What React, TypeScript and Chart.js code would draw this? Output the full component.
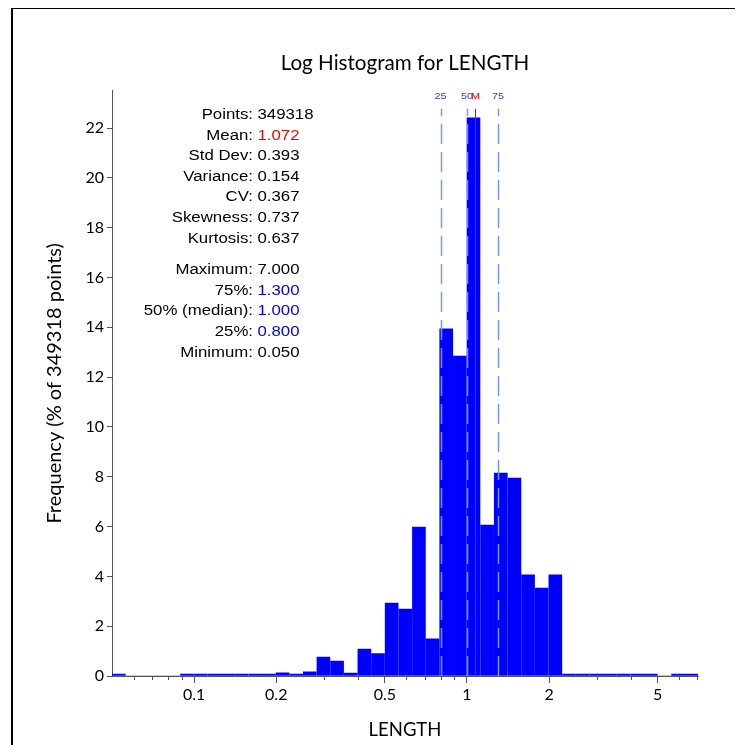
import React, { useEffect, useRef } from 'react';
import { Chart, registerables } from 'chart.js';

Chart.register(...registerables);

// Log-spaced bin centres (LENGTH)
const binCenters = [
  0.05296, 0.05942, 0.06667, 0.07481, 0.08394, 0.09418, 0.10567, 0.11857, 0.13304, 0.14927,
  0.16749, 0.18792, 0.21085, 0.23658, 0.26545, 0.29785, 0.33419, 0.37497, 0.42073, 0.47207,
  0.52967, 0.59431, 0.66683, 0.7482, 0.8395, 0.94194, 1.05688, 1.18584, 1.33054, 1.4929,
  1.67507, 1.87947, 2.10881, 2.36614, 2.65486, 2.97882, 3.34231, 3.75016, 4.20777, 4.72122,
  5.29733, 5.94373, 6.66901,
];

// Frequency (% of points) per bin
const frequencies = [
  0.08, 0, 0, 0, 0, 0.08, 0.08, 0.08, 0.08, 0.08,
  0.08, 0.08, 0.13, 0.08, 0.17, 0.76, 0.6, 0.12, 1.08, 0.9,
  2.93, 2.69, 5.98, 1.49, 13.94, 12.85, 22.41, 6.06, 8.15, 7.95,
  4.06, 3.53, 4.06, 0.08, 0.08, 0.08, 0.08, 0.08, 0.08, 0.08,
  0, 0.08, 0.08,
];

const majorTicks = [0.1, 0.2, 0.5, 1, 2, 5];
const minorTicks = [0.06, 0.07, 0.08, 0.09, 0.3, 0.4, 0.6, 0.7, 0.8, 0.9, 3, 4, 6, 7];

const statLabels = ['Points', 'Mean', 'Std Dev', 'Variance', 'CV', 'Skewness', 'Kurtosis',
  'Maximum', '75%', '50% (median)', '25%', 'Minimum'];
const statValues = ['349318', '1.072', '0.393', '0.154', '0.367', '0.737', '0.637',
  '7.000', '1.300', '1.000', '0.800', '0.050'];

const percentileLabels = ['25', '50', '75'];
const percentileValues = [0.8, 1.0, 1.3];
const meanValue = 1.072;

const AXIS_COLOR = '#555555';
const LATO = 'Lato, "Open Sans", sans-serif';
const ARIAL = '"Liberation Sans", Arial, sans-serif';
const STRETCH = 1.2;

const overlayPlugin = {
  id: 'overlay',
  afterDatasetsDraw(chart: any) {
    const { ctx, chartArea } = chart;
    const x = chart.scales.x;
    const lineTop = chartArea.top + 18;
    ctx.save();
    // percentile dashed lines (drawn from the bottom upward)
    ctx.strokeStyle = '#7499f2';
    ctx.lineWidth = 1.5;
    ctx.setLineDash([20, 8]);
    percentileValues.forEach((v) => {
      const px = Math.round(x.getPixelForValue(v)) + 0.5;
      ctx.beginPath();
      ctx.moveTo(px, chartArea.bottom);
      ctx.lineTo(px, lineTop);
      ctx.stroke();
    });
    // mean line
    ctx.setLineDash([]);
    ctx.strokeStyle = '#ff0000';
    ctx.lineWidth = 1;
    const mx = Math.round(x.getPixelForValue(meanValue)) + 0.5;
    ctx.beginPath();
    ctx.moveTo(mx, chartArea.bottom);
    ctx.lineTo(mx, lineTop);
    ctx.stroke();

    // labels above lines
    ctx.font = '9px ' + ARIAL;
    ctx.textAlign = 'center';
    ctx.textBaseline = 'middle';
    const labY = chartArea.top + 6;
    const drawLab = (t: string, px: number, col: string) => {
      ctx.save();
      ctx.translate(px, labY);
      ctx.scale(STRETCH, 1);
      ctx.fillStyle = col;
      ctx.fillText(t, 0, 0);
      ctx.restore();
    };
    percentileValues.forEach((v, i) => drawLab(percentileLabels[i], x.getPixelForValue(v), '#3535ff'));
    drawLab('M', mx, '#ff0000');
    ctx.restore();
  },
  afterDraw(chart: any) {
    const { ctx, chartArea } = chart;
    const x = chart.scales.x;
    ctx.save();
    // minor ticks
    ctx.strokeStyle = AXIS_COLOR;
    ctx.lineWidth = 1;
    minorTicks.forEach((v) => {
      const px = Math.round(x.getPixelForValue(v)) + 0.5;
      ctx.beginPath();
      ctx.moveTo(px, chartArea.bottom);
      ctx.lineTo(px, chartArea.bottom + 4);
      ctx.stroke();
    });

    // statistics block
    ctx.font = '14px ' + ARIAL;
    ctx.textBaseline = 'middle';
    const labelX = chartArea.left + 141;
    const valueX = chartArea.left + 145.5;
    statLabels.forEach((lab, i) => {
      const y = chartArea.top + 24.5 + i * 20.6 + (i >= 7 ? 11 : 0);
      let col = '#000';
      if (lab === 'Mean') col = '#ff0000';
      else if (lab === '75%' || lab === '50% (median)' || lab === '25%') col = '#0000ff';

      ctx.save();
      ctx.translate(labelX, y);
      ctx.scale(STRETCH, 1);
      ctx.textAlign = 'right';
      ctx.fillStyle = '#000';
      ctx.fillText(lab + ':', 0, 0);
      ctx.restore();

      ctx.save();
      ctx.translate(valueX, y);
      ctx.scale(STRETCH, 1);
      ctx.textAlign = 'left';
      ctx.fillStyle = col;
      ctx.fillText(statValues[i], 0, 0);
      ctx.restore();
    });
    ctx.restore();
  },
};

export default function App() {
  const ref = useRef<HTMLCanvasElement | null>(null);

  useEffect(() => {
    document.documentElement.style.overflow = 'hidden';
    if (!ref.current) return;
    const chart = new Chart(ref.current, {
      type: 'bar',
      data: {
        datasets: [
          {
            data: binCenters.map((c, i) => ({ x: c, y: frequencies[i] })),
            backgroundColor: '#0000ff',
            borderWidth: 0,
            barThickness: 13,
          } as any,
        ],
      },
      options: {
        animation: false,
        responsive: false,
        maintainAspectRatio: false,
        layout: { padding: { left: 0, right: 37, top: 0, bottom: 0 } },
        plugins: {
          legend: { display: false },
          tooltip: { enabled: false },
          title: {
            display: true,
            text: 'Log Histogram for LENGTH',
            fullSize: false,
            color: '#000',
            font: { family: LATO, size: 20.6, weight: 'normal' },
            padding: { top: 43, bottom: 15 },
          },
        },
        scales: {
          x: {
            type: 'logarithmic',
            min: 0.05,
            max: 7.03,
            offset: false,
            grid: {
              display: true,
              drawOnChartArea: false,
              offset: false,
              tickLength: 7,
              color: AXIS_COLOR,
              tickColor: (c: any) =>
                c.tick && majorTicks.includes(c.tick.value) ? AXIS_COLOR : 'rgba(0,0,0,0)',
            },
            border: { display: true, color: AXIS_COLOR, width: 1 },
            ticks: {
              autoSkip: false,
              maxRotation: 0,
              minRotation: 0,
              padding: 2,
              color: '#000',
              font: { family: LATO, size: 16 },
              callback: (v: any) => (majorTicks.includes(Number(v)) ? String(v) : ''),
            },
            afterBuildTicks: (s: any) => {
              s.ticks = [...majorTicks, ...minorTicks]
                .sort((a, b) => a - b)
                .map((v) => ({ value: v }));
            },
            afterFit: (s: any) => {
              s.height = 69;
            },
            title: {
              display: true,
              text: 'LENGTH',
              color: '#000',
              font: { family: LATO, size: 18.5 },
              padding: { top: 0, bottom: 4 },
            },
          } as any,
          y: {
            min: 0,
            max: 23.5,
            grid: { display: true, drawOnChartArea: false, tickLength: 5, color: AXIS_COLOR },
            border: { display: true, color: AXIS_COLOR, width: 1 },
            ticks: {
              stepSize: 2,
              includeBounds: false,
              padding: 3,
              color: '#000',
              font: { family: LATO, size: 16 },
            },
            afterFit: (s: any) => {
              s.width = 104;
            },
            title: {
              display: true,
              text: 'Frequency (% of 349318 points)',
              color: '#000',
              font: { family: LATO, size: 20 },
              padding: { top: 35, bottom: 0 },
            },
          } as any,
        },
      },
      plugins: [overlayPlugin],
    });
    return () => chart.destroy();
  }, []);

  return (
    <div style={{ position: 'relative', width: 727, height: 737 }}>
      <canvas ref={ref} width={727} height={737} style={{ display: 'block', width: 727, height: 737 }} />
      <div
        style={{
          position: 'absolute',
          left: 3,
          top: -1,
          width: 760,
          height: 770,
          borderLeft: '2px solid #000',
          borderTop: '2px solid #000',
          pointerEvents: 'none',
        }}
      />
    </div>
  );
}
